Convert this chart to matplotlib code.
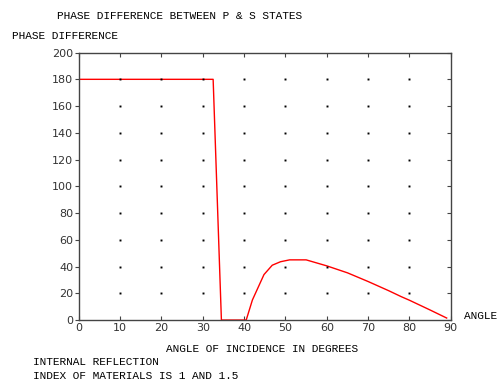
import numpy as np
import matplotlib
matplotlib.use('Agg')
from matplotlib import pyplot as plt

# angle of incidence (deg) and phase difference (deg)
angle = [0, 32.5, 34.5, 40.5, 42, 44.8, 46.8, 48.8, 51, 55, 60, 65, 70, 75, 78, 80, 85, 89]
phase = [180, 180, 0, 0, 15, 34, 41, 43.6, 45, 45, 40.5, 35.3, 28.8, 21.9, 17.5, 14.8, 7.5, 1.5]

xticks = list(range(0, 100, 10))
yticks = list(range(0, 220, 20))

mono = 'Liberation Mono'
tick_col = '#444444'

fig = plt.figure(figsize=(5.02, 3.81), dpi=100)
ax = fig.add_axes([0.157, 0.16, 0.741, 0.702])

ax.plot(angle, phase, color='red', lw=1)

# dotted grid: a dot at each inner tick crossing
gx, gy = np.meshgrid(xticks[1:-1], yticks[1:-1])
ax.plot(gx.ravel(), gy.ravel(), ls='none', marker='s', ms=1.4, color='black', mec='none')

ax.set_xlim(0, 90)
ax.set_ylim(0, 200)
ax.set_xticks(xticks)
ax.set_yticks(yticks)
ax.tick_params(axis='x', direction='in', top=True, length=3, colors=tick_col, labelsize=8, pad=2)
ax.tick_params(axis='y', direction='out', length=3, colors=tick_col, labelsize=8, pad=1)
for lab in ax.get_xticklabels() + ax.get_yticklabels():
    lab.set_color('#333333')
for s in ax.spines.values():
    s.set_color(tick_col)
    s.set_linewidth(1)

# right side ticks point inward
ax2 = ax.twinx()
ax2.set_ylim(0, 200)
ax2.set_yticks(yticks)
ax2.tick_params(axis='y', direction='in', length=3, colors=tick_col, labelright=False)
for s in ax2.spines.values():
    s.set_visible(False)

fig.text(57/502, 1 - 16/381, 'PHASE DIFFERENCE BETWEEN P & S STATES', family=mono, fontsize=8, va='center')
fig.text(12/502, 1 - 36/381, 'PHASE DIFFERENCE', family=mono, fontsize=8, va='center')
fig.text(464/502, 1 - 316/381, 'ANGLE', family=mono, fontsize=8, va='center')
fig.text(262/502, 1 - 349/381, 'ANGLE OF INCIDENCE IN DEGREES', family=mono, fontsize=8, va='center', ha='center')
fig.text(33/502, 1 - 362/381, 'INTERNAL REFLECTION', family=mono, fontsize=8, va='center')
fig.text(33/502, 1 - 376/381, 'INDEX OF MATERIALS IS 1 AND 1.5', family=mono, fontsize=8, va='center')

fig.savefig('out.png', dpi=100)
